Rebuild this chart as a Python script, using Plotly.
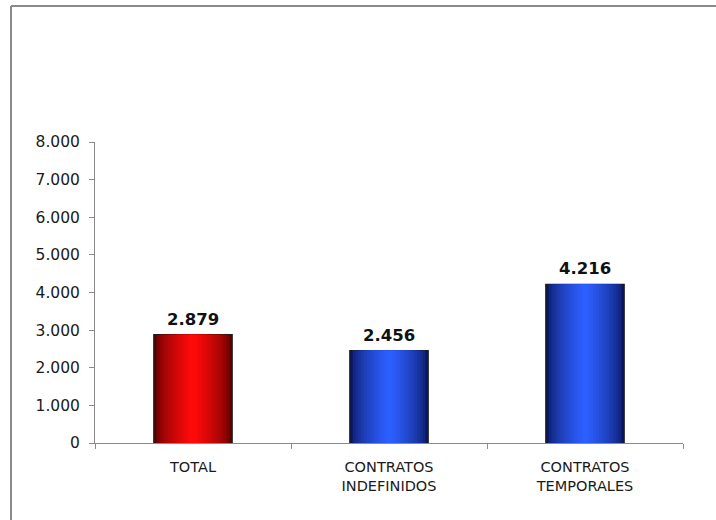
import plotly.graph_objects as go

categories = ["TOTAL", "CONTRATOS<br>INDEFINIDOS", "CONTRATOS<br>TEMPORALES"]
values = [2879, 2456, 4216]
value_labels = ["2.879", "2.456", "4.216"]
y_ticks = [0, 1000, 2000, 3000, 4000, 5000, 6000, 7000, 8000]

# gradient styling (edge -> centre)
N = 14
bar_width = 0.40

def lerp(c0, c1, f):
    return "rgb(%d,%d,%d)" % tuple(round(a + (b_ - a) * f) for a, b_ in zip(c0, c1))

red_edge, red_mid = (90, 0, 0), (255, 10, 10)
blue_edge, blue_mid = (10, 22, 95), (45, 95, 255)

fig = go.Figure()
for i in range(N):
    f = (i / (N - 1)) ** 0.6
    w = bar_width * (1 - i / N)
    cr = lerp(red_edge, red_mid, f)
    cb = lerp(blue_edge, blue_mid, f)
    first = i == 0
    fig.add_trace(go.Bar(
        x=categories, y=values, width=[w] * len(values),
        marker=dict(color=[cr, cb, cb],
                    line=dict(color="#1a1a1a" if first else "rgba(0,0,0,0)", width=1.2 if first else 0)),
        hoverinfo="skip",
        showlegend=False,
    ))

annotations = [
    dict(x=c, y=v, text="<b>%s</b>" % lab, showarrow=False, xref="x", yref="y",
         yanchor="bottom", yshift=4, font=dict(family="DejaVu Sans", size=16.5, color="#111"))
    for c, v, lab in zip(categories, values, value_labels)
]

l, r, t, b = 95, 33, 142, 77
W, H = 716, 520
pw, ph = W - l - r, H - t - b

def px(xp):
    return (xp - l) / pw

def py(yp):
    return (H - b - yp) / ph

fig.update_layout(
    width=W, height=H,
    margin=dict(l=l, r=r, t=t, b=b, pad=0),
    barmode="overlay",
    separators=",.",
    paper_bgcolor="white", plot_bgcolor="white",
    font=dict(family="DejaVu Sans", size=14, color="#1a1a1a"),
    xaxis=dict(showline=True, linecolor="#8a8a8a", linewidth=1,
               ticks="outside", tickson="boundaries", ticklen=5, tickcolor="#8a8a8a",
               ticklabelstandoff=11,
               tickfont=dict(size=14.5, color="#1a1a1a"), showgrid=False, fixedrange=True),
    yaxis=dict(range=[0, 8000], tickvals=y_ticks, tickformat=",d",
               showline=True, linecolor="#8a8a8a", linewidth=1,
               ticks="outside", ticklen=5, tickcolor="#8a8a8a",
               ticklabelstandoff=6,
               tickfont=dict(size=15.5, color="#1a1a1a"), showgrid=False, zeroline=False,
               fixedrange=True),
    annotations=annotations,
    shapes=[
        dict(type="line", xref="paper", yref="paper", x0=px(11), x1=px(716), y0=py(6), y1=py(6),
             line=dict(color="#8a8a8a", width=2)),
        dict(type="line", xref="paper", yref="paper", x0=px(11), x1=px(11), y0=py(6), y1=py(520),
             line=dict(color="#8a8a8a", width=2)),
    ],
)

fig.write_html("out.html", config={"displayModeBar": False},
               post_script="document.body.style.margin='0';document.body.style.padding='0';"
                           "document.documentElement.style.overflow='hidden';")
